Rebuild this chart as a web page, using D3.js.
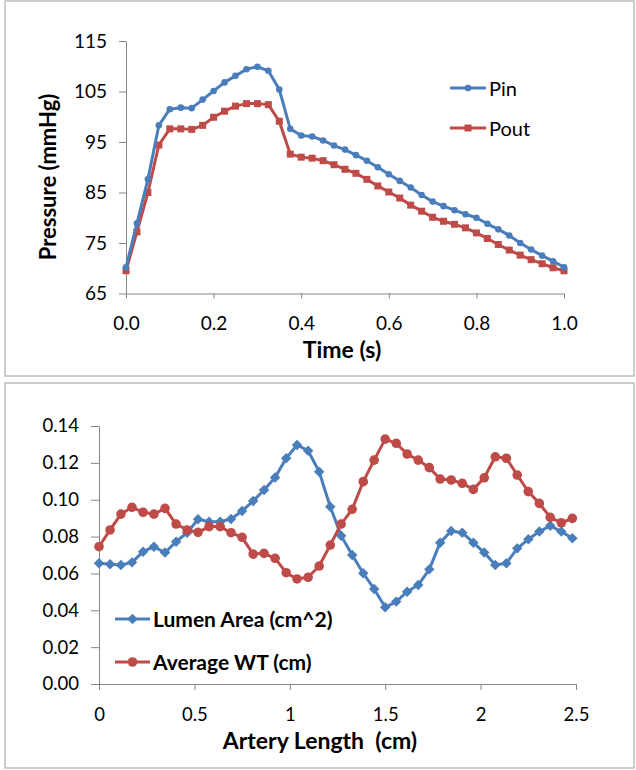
<!DOCTYPE html>
<html>
<head>
<meta charset="utf-8">
<script src="https://cdn.jsdelivr.net/npm/d3@7"></script>
<style>
  html, body { margin: 0; padding: 0; background: #fff; }
  svg { display: block; }
  text { font-family: Lato, "Open Sans", sans-serif; fill: #000; white-space: pre; }
</style>
</head>
<body>
<svg id="chart" width="636" height="770"></svg>
<script>
// ---------- Top chart data ----------
const time = [0, 0.025, 0.05, 0.075, 0.1, 0.125, 0.15, 0.175, 0.2, 0.225, 0.25, 0.275, 0.3, 0.325, 0.35, 0.375,
  0.4, 0.425, 0.45, 0.475, 0.5, 0.525, 0.55, 0.575, 0.6, 0.625, 0.65, 0.675, 0.7, 0.725, 0.75, 0.775,
  0.8, 0.825, 0.85, 0.875, 0.9, 0.925, 0.95, 0.975, 1.0];
const pin = [70.2, 78.9, 87.6, 98.3, 101.5, 101.8, 101.7, 103.4, 105.1, 106.8, 108.1, 109.4, 109.9, 109.1, 105.4, 97.6,
  96.3, 96.1, 95.3, 94.3, 93.5, 92.4, 91.3, 90.0, 88.6, 87.3, 86.0, 84.5, 83.2, 82.3, 81.5, 80.7,
  80.0, 78.8, 77.7, 76.5, 75.0, 73.7, 72.5, 71.4, 70.2];
const pout = [69.5, 77.2, 85.0, 94.4, 97.6, 97.6, 97.5, 98.3, 99.9, 101.1, 102.1, 102.6, 102.6, 102.4, 99.1, 92.6,
  92.0, 91.8, 91.3, 90.5, 89.6, 88.8, 87.6, 86.3, 85.1, 83.9, 82.5, 81.3, 80.1, 79.3, 78.7, 78.0,
  77.0, 75.9, 74.7, 73.6, 72.6, 71.7, 70.9, 70.1, 69.5];
const topYTicks = [65, 75, 85, 95, 105, 115];
const topXTicks = [0, 0.2, 0.4, 0.6, 0.8, 1.0];
const topSeriesNames = ["Pin", "Pout"];

// ---------- Bottom chart data ----------
const length = [0, 0.058, 0.115, 0.173, 0.231, 0.288, 0.346, 0.404, 0.462, 0.519, 0.577, 0.635, 0.692, 0.750,
  0.808, 0.865, 0.923, 0.981, 1.038, 1.096, 1.154, 1.212, 1.269, 1.327, 1.385, 1.442, 1.500, 1.558,
  1.615, 1.673, 1.731, 1.788, 1.846, 1.904, 1.962, 2.019, 2.077, 2.135, 2.192, 2.250, 2.308, 2.365,
  2.423, 2.481];
const lumenArea = [0.0655, 0.0650, 0.0646, 0.0660, 0.0718, 0.0745, 0.0713, 0.0772, 0.0821, 0.0894, 0.0881,
  0.0881, 0.0895, 0.0939, 0.0993, 0.1053, 0.1121, 0.1225, 0.1297, 0.1266, 0.1152, 0.0962, 0.0805,
  0.0700, 0.0601, 0.0516, 0.0416, 0.0447, 0.0501, 0.0537, 0.0622, 0.0767, 0.0830, 0.0821, 0.0767,
  0.0713, 0.0646, 0.0655, 0.0736, 0.0785, 0.0827, 0.0859, 0.0827, 0.0791];
const avgWT = [0.0745, 0.0836, 0.0922, 0.0959, 0.0932, 0.0922, 0.0953, 0.0868, 0.0836, 0.0823, 0.0854,
  0.0854, 0.0821, 0.0796, 0.0705, 0.0709, 0.0682, 0.0604, 0.0570, 0.0579, 0.0640, 0.0754, 0.0868,
  0.0948, 0.1098, 0.1215, 0.1329, 0.1306, 0.1248, 0.1215, 0.1174, 0.1112, 0.1107, 0.1089, 0.1056,
  0.1119, 0.1233, 0.1225, 0.1134, 0.1044, 0.0980, 0.0904, 0.0875, 0.0899];
const botYTicks = [0, 0.02, 0.04, 0.06, 0.08, 0.10, 0.12, 0.14];
const botXTicks = [0, 0.5, 1, 1.5, 2, 2.5];
const botSeriesNames = ["Lumen Area (cm^2)", "Average WT (cm)"];

const BLUE = "#4A7EBB", RED = "#BE4B48", AXIS = "#868686", FRAME = "#BDBDBD";

const svg = d3.select("#chart");

// panel frames
svg.append("rect").attr("x", 5).attr("y", 1).attr("width", 629).attr("height", 375)
  .attr("fill", "#fff").attr("stroke", FRAME).attr("stroke-width", 1.5);
svg.append("rect").attr("x", 5).attr("y", 383).attr("width", 629).attr("height", 385)
  .attr("fill", "#fff").attr("stroke", FRAME).attr("stroke-width", 1.5);

function styleAxis(g, fs) {
  g.select(".domain").attr("stroke", AXIS).attr("stroke-width", 1);
  g.selectAll(".tick line").attr("stroke", AXIS).attr("stroke-width", 1);
  g.selectAll(".tick text").style("font-family", "Lato, sans-serif").style("font-size", fs + "px").attr("fill", "#000");
}

// ================= TOP CHART =================
const xT = d3.scaleLinear().domain([0, 1]).range([126, 564]);
const yT = d3.scaleLinear().domain([65, 115]).range([293.5, 41]);

const gTop = svg.append("g");
const yAxT = gTop.append("g").attr("transform", `translate(${xT(0)},0)`)
  .call(d3.axisLeft(yT).tickValues(topYTicks).tickSize(7).tickSizeOuter(0).tickPadding(12).tickFormat(d3.format("d")));
styleAxis(yAxT, 19);
const xAxT = gTop.append("g").attr("transform", `translate(0,${yT(65)})`)
  .call(d3.axisBottom(xT).tickValues(topXTicks).tickSize(5).tickSizeOuter(0).tickFormat(d3.format(".1f")));
styleAxis(xAxT, 19);
xAxT.selectAll(".tick text").attr("dy", null).attr("y", 36);

const lineT = (vals) => d3.line().x((d, i) => xT(time[i])).y(d => yT(d))(vals);

// Pout (red, squares)
gTop.append("path").attr("d", lineT(pout)).attr("fill", "none").attr("stroke", RED)
  .attr("stroke-width", 3).attr("stroke-linejoin", "round");
gTop.selectAll(".sqT").data(pout).enter().append("rect")
  .attr("x", (d, i) => xT(time[i]) - 3.5).attr("y", d => yT(d) - 3.5)
  .attr("width", 7).attr("height", 7).attr("fill", RED);
// Pin (blue, circles)
gTop.append("path").attr("d", lineT(pin)).attr("fill", "none").attr("stroke", BLUE)
  .attr("stroke-width", 3).attr("stroke-linejoin", "round");
gTop.selectAll(".ciT").data(pin).enter().append("circle")
  .attr("cx", (d, i) => xT(time[i])).attr("cy", d => yT(d)).attr("r", 3.3).attr("fill", BLUE);

// axis titles
gTop.append("text").attr("x", 342).attr("y", 358).attr("text-anchor", "middle")
  .style("font-size", "23px").style("font-weight", "bold").text("Time (s)");
gTop.append("text").attr("transform", "translate(56,177) rotate(-90)").attr("text-anchor", "middle")
  .style("font-size", "22px").style("font-weight", "bold").text("Pressure (mmHg)");

// legend
const legT = [{ name: topSeriesNames[0], color: BLUE, y: 88, shape: "circle" },
              { name: topSeriesNames[1], color: RED, y: 128, shape: "square" }];
legT.forEach(l => {
  gTop.append("line").attr("x1", 450).attr("x2", 486).attr("y1", l.y).attr("y2", l.y)
    .attr("stroke", l.color).attr("stroke-width", 3);
  if (l.shape === "circle") gTop.append("circle").attr("cx", 468).attr("cy", l.y).attr("r", 3.3).attr("fill", l.color);
  else gTop.append("rect").attr("x", 464.5).attr("y", l.y - 3.5).attr("width", 7).attr("height", 7).attr("fill", l.color);
  gTop.append("text").attr("x", 489).attr("y", l.y + 7.5).style("font-size", "20px").text(l.name);
});

// ================= BOTTOM CHART =================
const xB = d3.scaleLinear().domain([0, 2.5]).range([99, 576]);
const yB = d3.scaleLinear().domain([0, 0.14]).range([684, 426]);

const gBot = svg.append("g");
const yAxB = gBot.append("g").attr("transform", `translate(${xB(0)},0)`)
  .call(d3.axisLeft(yB).tickValues(botYTicks).tickSize(8).tickSizeOuter(0).tickPadding(12).tickFormat(d3.format(".2f")));
styleAxis(yAxB, 18.5);
const xAxB = gBot.append("g").attr("transform", `translate(0,${yB(0)})`)
  .call(d3.axisBottom(xB).tickValues(botXTicks).tickSize(6).tickSizeOuter(0).tickFormat(d => String(d)));
styleAxis(xAxB, 18.5);
xAxB.selectAll(".tick text").attr("dy", null).attr("y", 36.5);

const lineB = (vals) => d3.line().x((d, i) => xB(length[i])).y(d => yB(d))(vals);

// Lumen area (blue diamonds)
gBot.append("path").attr("d", lineB(lumenArea)).attr("fill", "none").attr("stroke", BLUE)
  .attr("stroke-width", 3).attr("stroke-linejoin", "round");
gBot.selectAll(".diB").data(lumenArea).enter().append("rect")
  .attr("x", -3.7).attr("y", -3.7).attr("width", 7.4).attr("height", 7.4)
  .attr("transform", (d, i) => `translate(${xB(length[i])},${yB(d)}) rotate(45)`)
  .attr("fill", BLUE);
// Average WT (red circles)
gBot.append("path").attr("d", lineB(avgWT)).attr("fill", "none").attr("stroke", RED)
  .attr("stroke-width", 3).attr("stroke-linejoin", "round");
gBot.selectAll(".ciB").data(avgWT).enter().append("circle")
  .attr("cx", (d, i) => xB(length[i])).attr("cy", d => yB(d)).attr("r", 4.8).attr("fill", RED);

// axis title
gBot.append("text").attr("x", 320).attr("y", 749).attr("text-anchor", "middle")
  .style("font-size", "23px").style("font-weight", "bold").text("Artery Length  (cm)");

// legend
const legB = [{ name: botSeriesNames[0], color: BLUE, y: 619, shape: "diamond" },
              { name: botSeriesNames[1], color: RED, y: 662, shape: "circle" }];
legB.forEach(l => {
  gBot.append("line").attr("x1", 115).attr("x2", 150).attr("y1", l.y).attr("y2", l.y)
    .attr("stroke", l.color).attr("stroke-width", 3);
  if (l.shape === "diamond") gBot.append("rect").attr("x", -3.7).attr("y", -3.7).attr("width", 7.4).attr("height", 7.4)
    .attr("transform", `translate(132.5,${l.y}) rotate(45)`).attr("fill", l.color);
  else gBot.append("circle").attr("cx", 132.5).attr("cy", l.y).attr("r", 4.8).attr("fill", l.color);
  gBot.append("text").attr("x", 153).attr("y", l.y + 7.5).style("font-size", "21px").style("font-weight", "bold").text(l.name);
});
</script>
</body>
</html>
